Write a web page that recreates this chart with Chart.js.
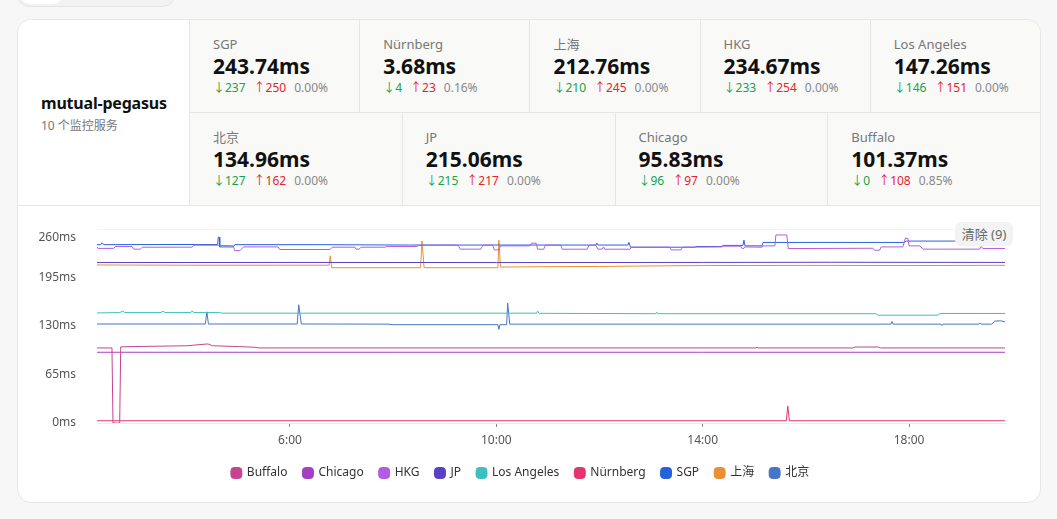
<!DOCTYPE html>
<html lang="zh">
<head>
<meta charset="UTF-8">
<title>mutual-pegasus</title>
<script src="https://cdn.jsdelivr.net/npm/chart.js"></script>
<style>
    body {
        margin: 0;
        background: #f7f7f7;
        font-family: "Noto Sans", "Noto Sans CJK SC", sans-serif;
        width: 1057px;
        height: 519px;
        overflow: hidden;
        position: relative;
    }
    .tabs {
        position: absolute; left: 17px; top: -30px; width: 158px; height: 37px;
        box-sizing: border-box; border: 1px solid #e4e4e4; border-radius: 12px; background: #f2f2f2;
    }
    .tabs .on {
        position: absolute; left: 2px; top: 0; width: 43px; height: 33px;
        border-radius: 10px; background: #fff;
    }
    .card {
        position: absolute; left: 17px; top: 19px; width: 1024px; height: 484px;
        box-sizing: border-box; border: 1px solid #e6e6e6; border-radius: 14px;
        background: #fff; overflow: hidden;
    }
    .stats {
        display: flex; height: 185px; border-bottom: 1px solid #e6e6e6;
    }
    .server {
        width: 172px; border-right: 1px solid #e6e6e6; background: #fff;
        display: flex; flex-direction: column; justify-content: center; padding-left: 23px;
        box-sizing: border-box; padding-top: 2px;
    }
    .server .name { font-size: 16px; font-weight: 700; line-height: 22px; color: #111; letter-spacing: -0.2px; }
    .server .sub { font-size: 12px; line-height: 18px; color: #777; margin-top: 3px; }
    .grid { flex: 1; background: #f9f9f8; display: flex; flex-direction: column; }
    .row { display: flex; height: 92px; }
    .row:first-child { border-bottom: 1px solid #e6e6e6; }
    .cell { flex: 1; padding: 15px 0 0 23px; box-sizing: border-box; }
    .cell + .cell { border-left: 1px solid #e6e6e6; }
    .cell .lbl { font-size: 13px; line-height: 18px; color: #777; }
    .cell .val { font-size: 21px; font-weight: 700; line-height: 26px; color: #111; }
    .cell .st { font-size: 12px; line-height: 18px; color: #888; }
    .cell .st span { margin-right: 8px; }
    .dn { color: #16a34a; }
    .up { color: #e5232b; }
    .chart-box { position: relative; width: 1022px; height: 296px; }
    .clear {
        position: absolute; left: 937px; top: 16px; width: 58px; height: 24px;
        background: #f3f3f3; border-radius: 6px; color: #666; font-size: 13px;
        line-height: 24px; text-align: center;
    }
</style>
</head>
<body>
<div class="tabs"><div class="on"></div></div>
<div class="card">
    <div class="stats">
        <div class="server">
            <div class="name">mutual-pegasus</div>
            <div class="sub">10 个监控服务</div>
        </div>
        <div class="grid">
            <div class="row" id="row1"></div>
            <div class="row" id="row2"></div>
        </div>
    </div>
    <div class="chart-box">
        <canvas id="latency"></canvas>
        <div class="clear">清除 (9)</div>
    </div>
</div>

<script>
    // summary cards
    const cardNames = ['SGP', 'Nürnberg', '上海', 'HKG', 'Los Angeles', '北京', 'JP', 'Chicago', 'Buffalo'];
    const cardAvg = ['243.74', '3.68', '212.76', '234.67', '147.26', '134.96', '215.06', '95.83', '101.37'];
    const cardMin = [237, 4, 210, 233, 146, 127, 215, 96, 0];
    const cardMax = [250, 23, 245, 254, 151, 162, 217, 97, 108];
    const cardLoss = ['0.00%', '0.16%', '0.00%', '0.00%', '0.00%', '0.00%', '0.00%', '0.00%', '0.85%'];

    // chart axes
    const hourTicks = [6, 10, 14, 18];
    const msTicks = [0, 65, 130, 195, 260];

    // series: [hour, ms]
    const buffalo = [[2.26,100.6],[2.55,100.6],[2.57,0],[2.70,0],[2.72,102],[3,102.5],[3.5,103],[4,103.5],[4.41,106],[4.5,103.5],[5,102.5],[5.32,101.5],[5.4,100.6],[15.03,100.6],[15.05,101.5],[15.08,100.6],[16.91,100.6],[16.95,101.8],[17.41,101.8],[17.45,100.6],[19.86,100.6]];
    const chicago = [[2.26,94.8],[8,94.8],[14,94.8],[19.86,94.8]];
    const hkg = [[2.26,236],[2.28,234],[2.58,234],[2.62,236.5],[2.94,236.5],[2.97,233],[3.10,233],[3.14,235.6],[4.10,235.6],[4.14,238.3],[4.60,238.3],[4.64,238],[4.90,237.5],[4.93,231],[5.03,231],[5.10,236],[5.77,236],[5.80,232.5],[6.78,232.5],[6.82,235.6],[7.26,235.6],[7.28,233],[7.34,233],[7.38,235.6],[7.84,235.6],[7.88,236.5],[8.46,236.5],[8.5,238.3],[9.26,238.3],[9.3,233],[9.70,233],[9.74,238.3],[9.93,238.3],[9.96,232],[10.05,232],[10.08,237.4],[10.65,237.4],[10.68,241],[10.77,241],[10.8,232.9],[10.92,232.9],[10.95,238.3],[11.25,238.3],[11.28,232.9],[11.76,232.9],[11.8,238.3],[11.93,238.3],[11.97,233],[12.05,233],[12.08,236],[12.1,232.9],[12.59,232.9],[12.62,235.6],[13.36,235.6],[13.39,232],[13.58,232],[13.61,235.6],[14.37,236],[14.4,237],[14.74,237],[14.76,234],[14.8,234],[14.82,236],[15.15,235.6],[15.17,237.4],[15.40,237.4],[15.42,252],[15.63,252],[15.66,233.8],[17.30,234.2],[17.33,231.6],[17.43,231.6],[17.46,236],[17.88,236],[17.93,248],[17.98,247],[18.0,237.4],[18.21,237.4],[18.27,233],[19.37,233],[19.40,236.5],[19.43,233.8],[19.86,233.8]];
    const jp = [[2.26,215],[6,215.2],[10,215],[14,215.2],[16.5,215.4],[19.86,215.2]];
    const losAngeles = [[2.26,147.5],[2.7,148],[2.76,150],[2.8,148],[3.5,148],[3.54,150],[3.58,148],[4.08,148],[4.1,150],[4.14,148],[4.64,148],[4.68,147.2],[10.78,147.2],[10.8,150],[10.83,147],[13.09,146.5],[13.11,148.5],[13.13,146.5],[17.36,146.5],[17.4,144.5],[18.56,144.5],[18.6,146.8],[19.86,146.8]];
    const nurnberg = [[2.26,3],[15.62,3],[15.65,22.6],[15.68,3],[19.86,3]];
    const sgp = [[2.26,239],[2.33,239],[2.36,241.5],[2.39,239],[3.5,239.2],[4.6,239.2],[4.61,249],[4.63,249],[4.64,236],[4.9,236],[4.93,239],[6.5,239],[8.3,238.5],[11.93,238.5],[11.95,241],[11.97,238.5],[12.55,238.5],[12.57,242],[12.6,235.6],[13.85,235.6],[13.87,236.5],[14.37,236.5],[14.39,238],[14.78,238],[14.8,245],[14.82,237.4],[15.15,237.4],[15.17,242],[17.9,242],[17.95,243.8],[19.86,243.8]];
    const shanghai = [[2.26,211.8],[4,211.5],[6.76,211.5],[6.78,224],[6.81,208.1],[8.53,208.1],[8.56,244],[8.60,208.1],[10.03,208.1],[10.05,245],[10.08,209],[11,209.5],[12,209.8],[13,210.5],[14,211],[16,211.2],[18,211],[19.86,211.3]];
    const beijing = [[2.26,132.7],[4.36,132.7],[4.39,149],[4.42,132.7],[6.14,132.7],[6.17,158.4],[6.22,132.7],[7.9,132.5],[8,131.8],[10.03,131.8],[10.05,125.5],[10.07,131.8],[10.2,131.8],[10.22,160.7],[10.26,132.5],[17.65,132.5],[17.67,136],[17.69,132.5],[18.62,132.5],[18.64,130.5],[18.66,132.5],[19.35,132.5],[19.37,134],[19.4,132.5],[19.6,132.5],[19.66,136.5],[19.78,137],[19.86,135.5]];

    const seriesNames = ['Buffalo', 'Chicago', 'HKG', 'JP', 'Los Angeles', 'Nürnberg', 'SGP', '上海', '北京'];
    const seriesData = [buffalo, chicago, hkg, jp, losAngeles, nurnberg, sgp, shanghai, beijing];
    const seriesColors = ['#c6438f', '#a43fc2', '#b25ce2', '#5a40c4', '#3ebfbf', '#e2356e', '#2563dc', '#ec8f33', '#4676c4'];

    // build the cards
    cardNames.forEach((n, i) => {
        const row = document.getElementById(i < 5 ? 'row1' : 'row2');
        const c = document.createElement('div');
        c.className = 'cell';
        c.innerHTML = '<div class="lbl">' + n + '</div>' +
            '<div class="val">' + cardAvg[i] + 'ms</div>' +
            '<div class="st"><span class="dn">↓' + cardMin[i] + '</span><span class="up">↑' + cardMax[i] + '</span><span>' + cardLoss[i] + '</span></div>';
        row.appendChild(c);
    });

    const ctx = document.getElementById('latency').getContext('2d');
    new Chart(ctx, {
        type: 'line',
        data: {
            datasets: seriesNames.map((name, i) => ({
                label: name,
                data: seriesData[i].map(p => ({ x: p[0], y: p[1] })),
                borderColor: seriesColors[i],
                backgroundColor: seriesColors[i],
                borderWidth: 1,
                pointRadius: 0,
                tension: 0
            }))
        },
        options: {
            responsive: true,
            maintainAspectRatio: false,
            animation: false,
            layout: { padding: { left: 0, right: 17, top: 23, bottom: 13 } },
            plugins: {
                tooltip: { enabled: false },
                legend: {
                    position: 'bottom',
                    labels: {
                        usePointStyle: true,
                        pointStyle: 'rectRounded',
                        boxWidth: 9,
                        boxHeight: 9,
                        padding: 16,
                        color: '#333',
                        font: { size: 12, family: '"Noto Sans", "Noto Sans CJK SC", sans-serif' }
                    }
                }
            },
            scales: {
                x: {
                    type: 'linear',
                    min: 2.26,
                    max: 19.86,
                    afterBuildTicks: s => { s.ticks = hourTicks.map(v => ({ value: v })); },
                    afterFit: s => { s.height = 28; s.paddingRight = 35; s.paddingLeft = 0; },
                    ticks: {
                        callback: v => v + ':00',
                        color: '#555',
                        padding: 6,
                        maxRotation: 0,
                        autoSkip: false,
                        font: { size: 12, family: '"Noto Sans", sans-serif' }
                    },
                    grid: { drawOnChartArea: false, color: '#888', tickLength: 4 },
                    border: { color: '#ececec' }
                },
                y: {
                    min: 0,
                    max: 260,
                    afterBuildTicks: s => { s.ticks = msTicks.map(v => ({ value: v })); },
                    afterFit: s => { s.width = 79; s.paddingTop = 0; s.paddingBottom = 0; },
                    ticks: {
                        callback: v => v === 260 ? ['', v + 'ms'] : v + 'ms',
                        color: '#555',
                        padding: 21,
                        font: { size: 12, lineHeight: 1.5, family: '"Noto Sans", sans-serif' }
                    },
                    grid: {
                        drawTicks: false,
                        color: c => c.tick && c.tick.value === 260 ? '#f3f3f3' : (c.tick && c.tick.value === 0 ? '#ececec' : 'rgba(0,0,0,0)')
                    },
                    border: { display: false }
                }
            }
        }
    });
</script>
</body>
</html>
